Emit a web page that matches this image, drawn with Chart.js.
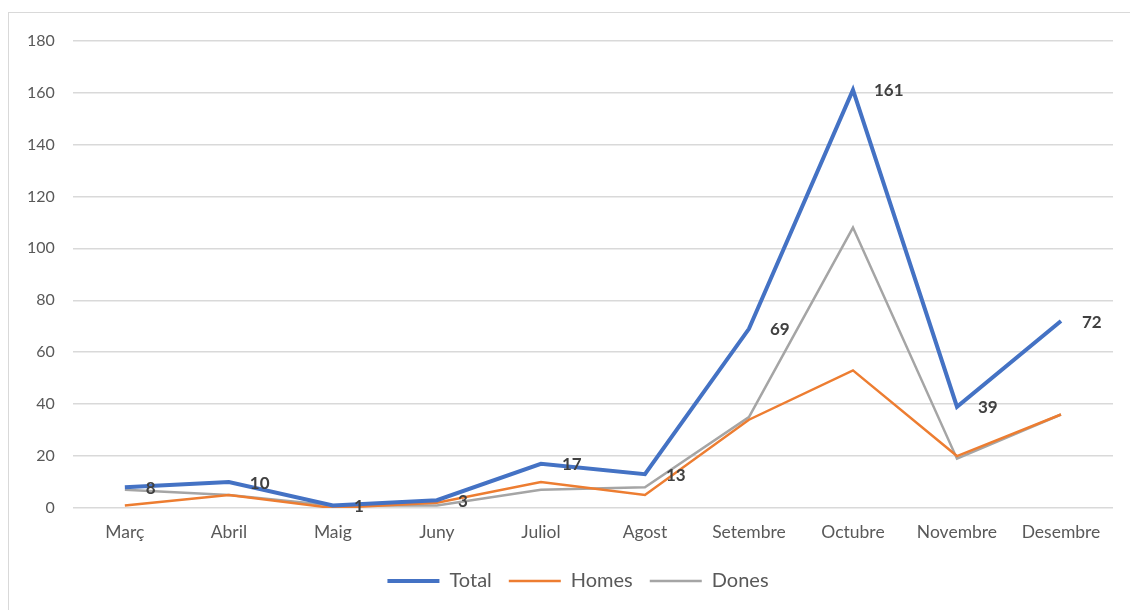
<!DOCTYPE html>
<html>
<head>
<meta charset="utf-8">
<script src="https://cdn.jsdelivr.net/npm/chart.js@4"></script>
<style>
  body { margin: 0; background: #fff; }
  #wrap { position: absolute; left: 8px; top: 12px; width: 1121px; height: 597px; border: 1px solid #d9d9d9; border-right: none; border-bottom: none; }
</style>
</head>
<body>
<div id="wrap"><canvas id="chart"></canvas></div>
<script>
const months = ["Març", "Abril", "Maig", "Juny", "Juliol", "Agost", "Setembre", "Octubre", "Novembre", "Desembre"];
const total = [8, 10, 1, 3, 17, 13, 69, 161, 39, 72];
const homes = [1, 5, 0, 2, 10, 5, 34, 53, 20, 36];
const dones = [7, 5, 1, 1, 7, 8, 35, 108, 19, 36];

Chart.defaults.font.family = "Lato, 'Open Sans', sans-serif";
Chart.defaults.color = "#595959";

// Excel-style value labels to the right of the Total points
const totalLabels = {
  id: "totalLabels",
  afterLayout(chart) {
    // the original chart frame is wider than the crop, so its legend sits a bit right of centre
    chart.legend.left += 17;
    chart.legend.right += 17;
  },
  afterDatasetsDraw(chart) {
    const ctx = chart.ctx;
    const meta = chart.getDatasetMeta(0);
    ctx.save();
    ctx.font = "bold 17px Lato, 'Open Sans', sans-serif";
    ctx.fillStyle = "#404040";
    ctx.textAlign = "left";
    ctx.textBaseline = "middle";
    meta.data.forEach((pt, i) => {
      ctx.fillText(String(total[i]), pt.x + 21, pt.y + 1);
    });
    ctx.restore();
  },
};

new Chart(document.getElementById("chart"), {
  type: "line",
  data: {
    labels: months,
    datasets: [
      { label: "Total", data: total, borderColor: "#4472C4", backgroundColor: "#4472C4", borderWidth: 4, pointRadius: 0, tension: 0 },
      { label: "Homes", data: homes, borderColor: "#ED7D31", backgroundColor: "#ED7D31", borderWidth: 2.5, pointRadius: 0, tension: 0 },
      { label: "Dones", data: dones, borderColor: "#A5A5A5", backgroundColor: "#A5A5A5", borderWidth: 2.5, pointRadius: 0, tension: 0 },
    ],
  },
  options: {
    responsive: true,
    maintainAspectRatio: false,
    animation: false,
    layout: { padding: { left: 0, right: 17, top: 22, bottom: 9 } },
    scales: {
      x: {
        offset: true,
        afterFit(axis) { axis.height += 5; },
        grid: { display: false },
        border: { display: false },
        ticks: { font: { size: 17.5 }, padding: 6, maxRotation: 0 },
      },
      y: {
        min: 0,
        max: 180,
        ticks: { stepSize: 20, font: { size: 16 }, padding: 18 },
        grid: { color: "#d9d9d9", lineWidth: 1.5, drawTicks: false },
        border: { display: false },
      },
    },
    plugins: {
      legend: {
        position: "bottom",
        labels: {
          usePointStyle: true,
          pointStyle: "line",
          pointStyleWidth: 52,
          font: { size: 20 },
          padding: 17,
        },
      },
      tooltip: { enabled: false },
    },
  },
  plugins: [totalLabels],
});
</script>
</body>
</html>
